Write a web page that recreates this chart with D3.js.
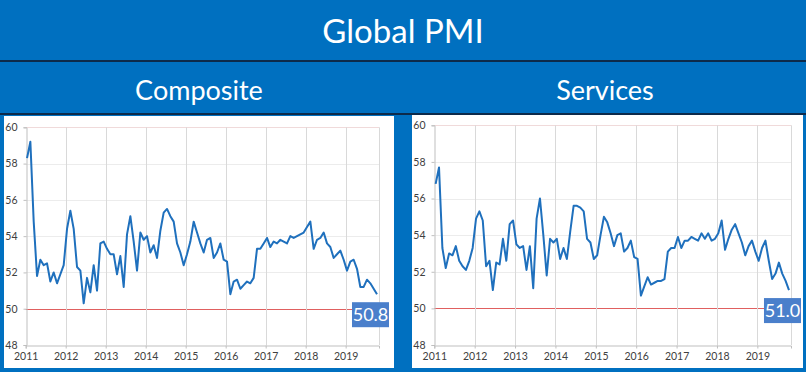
<!DOCTYPE html>
<html>
  <head>
    <title>Global PMI</title>
    <script type="text/javascript" src="https://cdn.jsdelivr.net/npm/d3@7/dist/d3.min.js"></script>
    <style type="text/css">
      html, body {
        margin: 0;
        padding: 0;
        background: #0070c0;
      }
      svg text {
        font-family: Lato, "Open Sans", sans-serif;
      }
      .tick-label {
        fill: #404040;
        font-size: 10px;
      }
    </style>
  </head>
  <body>
    <svg id="screen" width="806" height="372" viewBox="0 0 806 372"></svg>

    <script type="text/javascript">

    // year labels on the x axis, one every 12 months from Jan 2011
    var years = ['2011', '2012', '2013', '2014', '2015', '2016', '2017', '2018', '2019'];
    var yTicks = [48, 50, 52, 54, 56, 58, 60];

    // monthly readings, Jan 2011 .. Oct 2019
    var composite = [
      58.3, 59.2, 54.8, 51.8, 52.7, 52.4, 52.5, 51.5, 52.0, 51.4, 51.9, 52.4,
      54.4, 55.4, 54.4, 52.3, 52.1, 50.3, 51.7, 50.9, 52.4, 51.0, 53.6, 53.7,
      53.3, 53.0, 53.0, 51.9, 52.9, 51.2, 54.1, 55.1, 53.7, 52.1, 54.2, 53.8,
      54.0, 53.1, 53.5, 52.8, 54.3, 55.3, 55.5, 55.1, 54.8, 53.6, 53.1, 52.4,
      53.0, 53.7, 54.8, 54.2, 53.6, 53.1, 53.8, 53.9, 52.8, 53.1, 53.6, 52.7,
      52.6, 50.8, 51.5, 51.6, 51.1, 51.3, 51.5, 51.4, 51.7, 53.3, 53.3, 53.6,
      53.9, 53.4, 53.7, 53.6, 53.8, 53.7, 53.6, 54.0, 53.9, 54.0, 54.1, 54.2,
      54.5, 54.8, 53.3, 53.8, 53.9, 54.2, 53.6, 53.4, 52.8, 53.0, 53.2, 52.7,
      52.1, 52.6, 52.7, 52.2, 51.2, 51.2, 51.6, 51.4, 51.1, 50.8
    ];

    var services = [
      56.8, 57.7, 53.3, 52.2, 53.0, 52.9, 53.4, 52.6, 52.3, 52.1, 52.6, 53.3,
      54.9, 55.3, 54.8, 52.3, 52.6, 51.0, 52.5, 52.4, 53.8, 52.6, 54.6, 54.8,
      53.5, 53.3, 53.4, 52.1, 53.4, 51.1, 54.9, 56.0, 54.0, 51.8, 53.8, 53.6,
      53.8, 52.7, 53.3, 52.7, 54.2, 55.6, 55.6, 55.5, 55.3, 53.8, 53.6, 52.7,
      52.9, 54.0, 55.0, 54.7, 54.1, 53.4, 54.0, 54.1, 53.1, 53.3, 53.7, 52.8,
      52.7, 50.7, 51.2, 51.7, 51.3, 51.4, 51.5, 51.5, 51.6, 53.1, 53.3, 53.3,
      53.9, 53.3, 53.7, 53.7, 53.9, 53.8, 53.7, 54.1, 53.8, 54.1, 53.7, 53.8,
      54.1, 54.8, 53.2, 53.8, 54.3, 54.6, 54.1, 53.6, 52.9, 53.4, 53.7, 53.1,
      52.6, 53.3, 53.7, 52.6, 51.6, 51.9, 52.5, 51.9, 51.5, 51.0
    ];

    var titles = ['Global PMI', 'Composite', 'Services'];

    var svg = d3.select('#screen');

    svg.append('rect')
       .attr('width', 806).attr('height', 372)
       .attr('fill', '#0070c0');

    // dark rules between the header bands
    svg.append('rect').attr('x', 0).attr('y', 60).attr('width', 806).attr('height', 2).attr('fill', '#0d2a4a');
    svg.append('rect').attr('x', 0).attr('y', 113).attr('width', 806).attr('height', 2).attr('fill', '#0d2a4a');

    svg.append('text')
       .attr('x', 403).attr('y', 43)
       .attr('text-anchor', 'middle')
       .attr('fill', '#fff')
       .style('font-size', '33px')
       .text(titles[0]);

    var panels = [
      { title: titles[1], tx: 199, data: composite,
        box: [4, 116, 390, 252], plot: [25.7, 379, 127.3, 345] },
      { title: titles[2], tx: 605, data: services,
        box: [412, 115, 391, 253], plot: [434.3, 791, 125.3, 345] }
    ];

    panels.forEach(function(p) {
      svg.append('text')
         .attr('x', p.tx).attr('y', 100)
         .attr('text-anchor', 'middle')
         .attr('fill', '#fff')
         .style('font-size', '27px')
         .text(p.title);

      svg.append('rect')
         .attr('x', p.box[0]).attr('y', p.box[1])
         .attr('width', p.box[2]).attr('height', p.box[3])
         .attr('fill', '#fff');

      var x = d3.scaleLinear().domain([0, 106]).range([p.plot[0], p.plot[1]]),
          y = d3.scaleLinear().domain([48, 60]).range([p.plot[3], p.plot[2]]);

      var g = svg.append('g');

      // horizontal grid
      g.selectAll('.hgrid')
       .data(yTicks.filter(function(d) { return d > 48; }))
       .enter().append('line')
       .attr('x1', x(0)).attr('x2', x(106))
       .attr('y1', function(d) { return Math.round(y(d)) + 0.5; })
       .attr('y2', function(d) { return Math.round(y(d)) + 0.5; })
       .attr('stroke', function(d) { return d === 50 ? '#e06060' : (d === 60 ? '#f0dada' : '#ececec'); })
       .attr('stroke-width', 1);

      // vertical grid at each January
      g.selectAll('.vgrid')
       .data(years.slice(1))
       .enter().append('line')
       .attr('x1', function(d, i) { return Math.round(x((i + 1) * 12)) + 0.5; })
       .attr('x2', function(d, i) { return Math.round(x((i + 1) * 12)) + 0.5; })
       .attr('y1', y(60)).attr('y2', y(48))
       .attr('stroke', '#d9d9d9');

      // right border of plot
      g.append('line')
       .attr('x1', Math.round(x(106)) + 0.5).attr('x2', Math.round(x(106)) + 0.5)
       .attr('y1', y(60)).attr('y2', y(48))
       .attr('stroke', '#d9d9d9');

      // axes
      var yAxis = d3.axisLeft(y).tickValues(yTicks).tickSize(3).tickPadding(6);
      var ya = g.append('g')
                .attr('transform', 'translate(' + (Math.round(x(0)) + 0.5) + ',0)')
                .call(yAxis);

      var xAxis = d3.axisBottom(x)
                    .tickValues(years.map(function(d, i) { return i * 12; }))
                    .tickFormat(function(d) { return years[d / 12]; })
                    .tickSize(3).tickPadding(4);
      var xa = g.append('g')
                .attr('transform', 'translate(0,' + (Math.round(y(48)) + 0.5) + ')')
                .call(xAxis);

      [ya, xa].forEach(function(a) {
        a.select('.domain').attr('stroke', '#bfbfbf');
        a.selectAll('.tick line').attr('stroke', '#bfbfbf');
        a.selectAll('.tick text')
         .attr('class', 'tick-label')
         .attr('fill', '#404040')
         .style('font-family', 'Lato, sans-serif')
         .style('font-size', '10.5px');
      });

      var line = d3.line()
                   .x(function(d, i) { return x(i + 0.4); })
                   .y(function(d) { return y(d); });

      g.append('path')
       .datum(p.data)
       .attr('d', line)
       .attr('fill', 'none')
       .attr('stroke', '#1f70bd')
       .attr('stroke-width', 2)
       .attr('stroke-linejoin', 'round');

      // last value callout
      var n = p.data.length - 1,
          lx = x(n + 0.4),
          ly = y(p.data[n]);

      g.append('rect')
       .attr('x', lx - 25).attr('y', ly + 8)
       .attr('width', 37).attr('height', 25)
       .attr('fill', '#4a7fcb');

      g.append('text')
       .attr('x', lx - 6.5).attr('y', ly + 27)
       .attr('text-anchor', 'middle')
       .attr('fill', '#fff')
       .style('font-size', '18px')
       .text(p.data[n].toFixed(1));
    });

    </script>
  </body>
</html>
